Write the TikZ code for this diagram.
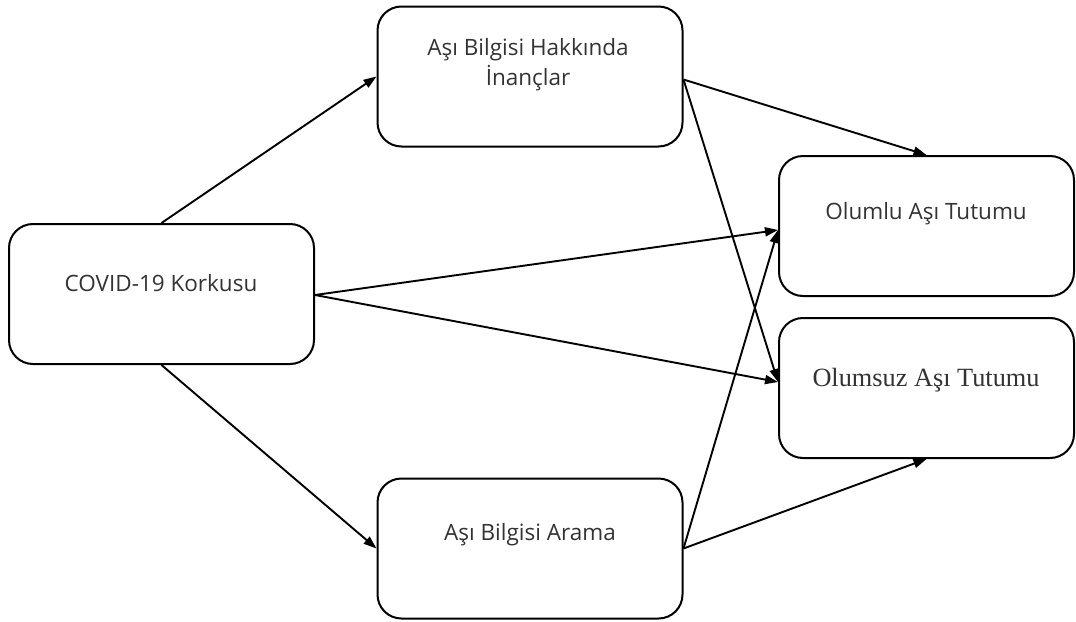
\documentclass[tikz,border=0pt]{standalone}
\usepackage{fontspec}
\setmainfont{Open Sans}
\newfontfamily\serifT{Liberation Serif}
\usetikzlibrary{arrows.meta,calc}
\begin{document}
\begin{tikzpicture}[x=1pt,y=-1pt,
  box/.style={draw=black,line width=2pt,rounded corners=24pt,minimum width=305pt,minimum height=140pt,inner sep=0pt,fill=white},
  lbl/.style={font=\fontsize{22.5}{30}\selectfont,text=black!80,align=center,inner sep=0pt},
  conn/.style={line width=1.9pt,-{Triangle[length=13pt,width=9pt]}}]
\useasboundingbox (0,0) rectangle (1076,621);
\node[box] (cov) at (161.5,294) {};
\node[box] (inan) at (530,76.5) {};
\node[box] (arama) at (530,548.5) {};
\node[box,minimum width=295pt] (olumlu) at (926.5,226) {};
\node[box,minimum width=295pt] (olumsuz) at (926.5,388) {};
\node[lbl] (tcov) at (161,283) {COVID-19 Korkusu};
\node[lbl] (tinan) at (528,65) {Aşı Bilgisi Hakkında\\İnançlar};
\node[lbl] (tarama) at (530,535) {Aşı Bilgisi Arama};
\node[lbl] (tolumlu) at (926,214) {Olumlu Aşı Tutumu};
\node[lbl,font=\serifT\fontsize{26.3}{30}\selectfont] (tolumsuz) at (926,380) {Olumsuz Aşı Tutumu};
\coordinate (olw) at ($(olumlu.west)+(0,4)$);
\coordinate (osw) at ($(olumsuz.west)+(0,-6)$);
\coordinate (ce) at ($(cov.east)+(0,1)$);
\coordinate (ie) at ($(inan.east)+(0,3)$);
\draw[conn] (cov.north) -- (inan.west);
\draw[conn] (cov.south) -- (arama.west);
\draw[conn] (ce) -- (olw);
\draw[conn] (ce) -- (osw);
\draw[conn] (ie) -- (olumlu.north);
\draw[conn] (ie) -- (osw);
\draw[conn] (arama.east) -- (olw);
\draw[conn] (arama.east) -- (olumsuz.south);
\end{tikzpicture}
\end{document}
